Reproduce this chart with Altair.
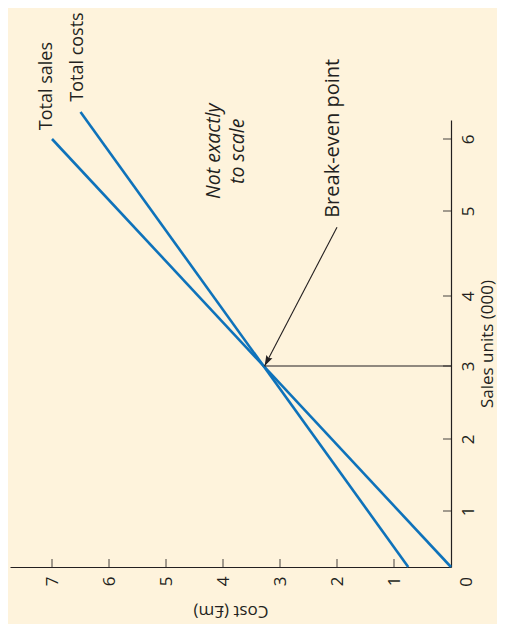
import altair as alt
import pandas as pd

# ---------------- data ----------------
cost_ticks = [0, 1, 2, 3, 4, 5, 6, 7]          # Cost (£m)
sales_ticks = [0, 1, 2, 3, 4, 5, 6]            # Sales units (000)

series_names = ["Total sales", "Total costs"]
total_sales_units = [0, 6]
total_sales_cost = [0, 7]
total_costs_units = [0, 6.37]
total_costs_cost = [0.75, 6.5]

break_even_units = 3
break_even_cost = 3.27

label_texts = ["Total sales", "Total costs"]
label_units = [6.12, 6.51]
label_cost = [7.09, 6.55]

be_label_text = "Break-even point"
be_label_units = 4.92
be_label_cost = 2.07

arrow_start_units = 4.81
arrow_start_cost = 2.0

note_text = "Not exactly\nto scale"
note_units = 5.83
note_cost = 4.16

# ---------------- styling ----------------
BG = "#FEF3DC"
BLUE = "#0E72BA"
INK = "#231F20"
FONT = "Open Sans"

lines_df = pd.DataFrame(
    {
        "series": [series_names[0]] * 2 + [series_names[1]] * 2,
        "units": total_sales_units + total_costs_units,
        "cost": total_sales_cost + total_costs_cost,
    }
)

xs = alt.Scale(domain=[0, 7.737], reverse=True, nice=False, zero=False)
ys = alt.Scale(
    domain=[0, 1, 2, 3, 4, 5, 6, 6.26],
    range=[447, 391, 319, 246, 176, 91, 19, 0],
    nice=False,
    zero=False,
)

x_axis = alt.Axis(
    values=cost_ticks,
    format="d",
    labelExpr="datum.value == 0 ? '' : datum.label",
    labelAngle=270,
    labelAlign="right",
    labelBaseline="middle",
    labelPadding=9,
    labelFont=FONT,
    labelFontSize=17,
    labelColor=INK,
    ticks=False,
    tickSize=0,
    grid=False,
    domainColor=INK,
    domainWidth=1.2,
    title="Cost (£m)",
    titleAngle=180,
    titleBaseline="bottom",
    titleY=34,
    titleFont=FONT,
    titleFontSize=17,
    titleFontWeight="normal",
    titleColor=INK,
)

y_axis = alt.Axis(
    orient="right",
    values=sales_ticks,
    format="d",
    labelExpr="datum.value == 0 ? '' : datum.label",
    labelAngle=270,
    labelAlign="center",
    labelBaseline="top",
    labelPadding=9,
    labelFont=FONT,
    labelFontSize=17,
    labelColor=INK,
    ticks=False,
    tickSize=0,
    grid=False,
    domainColor=INK,
    domainWidth=1.2,
    title="Sales units (000)",
    titleAngle=270,
    titleBaseline="top",
    titleX=28,
    titleFont=FONT,
    titleFontSize=17,
    titleFontWeight="normal",
    titleColor=INK,
)

lines = (
    alt.Chart(lines_df)
    .mark_line(color=BLUE, strokeWidth=2.6)
    .encode(
        x=alt.X("cost:Q", scale=xs, axis=x_axis),
        y=alt.Y("units:Q", scale=ys, axis=y_axis),
        detail="series:N",
        order="units:Q",
    )
)

cost_tick_df = pd.DataFrame({"cost": [c for c in cost_ticks if c != 0], "units": 0})
sales_tick_df = pd.DataFrame({"units": [s for s in sales_ticks if s != 0], "cost": 0})

cost_tick_marks = (
    alt.Chart(cost_tick_df)
    .mark_tick(orient="vertical", size=8, thickness=1.2, color=INK, yOffset=-4)
    .encode(x=alt.X("cost:Q", scale=xs), y=alt.Y("units:Q", scale=ys))
)
sales_tick_marks = (
    alt.Chart(sales_tick_df)
    .mark_tick(orient="horizontal", size=8, thickness=1.2, color=INK, xOffset=-4)
    .encode(x=alt.X("cost:Q", scale=xs), y=alt.Y("units:Q", scale=ys))
)

be_df = pd.DataFrame(
    {"units": [break_even_units], "cost": [break_even_cost], "cost2": [0]}
)
be_rule = (
    alt.Chart(be_df)
    .mark_rule(color=INK, strokeWidth=1.2)
    .encode(x=alt.X("cost:Q", scale=xs), x2="cost2:Q", y=alt.Y("units:Q", scale=ys))
)

arrow_df = pd.DataFrame(
    {
        "units": [arrow_start_units],
        "cost": [arrow_start_cost],
        "units2": [break_even_units],
        "cost2": [break_even_cost],
    }
)
arrow_shaft = (
    alt.Chart(arrow_df)
    .mark_rule(color=INK, strokeWidth=1.1)
    .encode(
        x=alt.X("cost:Q", scale=xs),
        y=alt.Y("units:Q", scale=ys),
        x2="cost2:Q",
        y2="units2:Q",
    )
)
arrow_head = (
    alt.Chart(be_df)
    .mark_point(
        shape="M0,0L-0.65,-2L0,-1.7L0.65,-2Z",
        filled=True,
        size=110,
        angle=27,
        color=INK,
        opacity=1,
        strokeWidth=0,
    )
    .encode(x=alt.X("cost:Q", scale=xs), y=alt.Y("units:Q", scale=ys))
)

labels_df = pd.DataFrame({"text": label_texts, "units": label_units, "cost": label_cost})
labels = (
    alt.Chart(labels_df)
    .mark_text(
        angle=270, align="left", baseline="middle", font=FONT, fontSize=18, color=INK
    )
    .encode(x=alt.X("cost:Q", scale=xs), y=alt.Y("units:Q", scale=ys), text="text:N")
)

be_label_df = pd.DataFrame(
    {"text": [be_label_text], "units": [be_label_units], "cost": [be_label_cost]}
)
be_label = (
    alt.Chart(be_label_df)
    .mark_text(
        angle=270, align="left", baseline="middle", font=FONT, fontSize=20, color=INK
    )
    .encode(x=alt.X("cost:Q", scale=xs), y=alt.Y("units:Q", scale=ys), text="text:N")
)

note_df = pd.DataFrame({"text": [note_text], "units": [note_units], "cost": [note_cost]})
note = (
    alt.Chart(note_df)
    .mark_text(
        angle=270,
        align="center",
        baseline="middle",
        font=FONT,
        fontSize=19.5,
        fontStyle="italic",
        color=INK,
        lineBreak="\n",
        lineHeight=24,
    )
    .encode(x=alt.X("cost:Q", scale=xs), y=alt.Y("units:Q", scale=ys), text="text:N")
)

zero_df = pd.DataFrame({"text": ["0"], "units": [0], "cost": [0]})
zero_label = (
    alt.Chart(zero_df)
    .mark_text(
        angle=270,
        align="center",
        baseline="middle",
        dx=-15,
        dy=16,
        font=FONT,
        fontSize=17,
        color=INK,
    )
    .encode(x=alt.X("cost:Q", scale=xs), y=alt.Y("units:Q", scale=ys), text="text:N")
)

chart = (
    alt.layer(
        lines,
        cost_tick_marks,
        sales_tick_marks,
        be_rule,
        arrow_shaft,
        arrow_head,
        labels,
        be_label,
        note,
        zero_label,
    )
    .properties(
        width=441,
        height=447,
        autosize=alt.AutoSizeParams(type="none"),
        padding={"left": 2, "top": 112, "right": 46, "bottom": 57},
        background=BG,
    )
    .configure_view(stroke=None)
)

chart.save("out.html", embed_options={"renderer": "svg", "actions": False})
